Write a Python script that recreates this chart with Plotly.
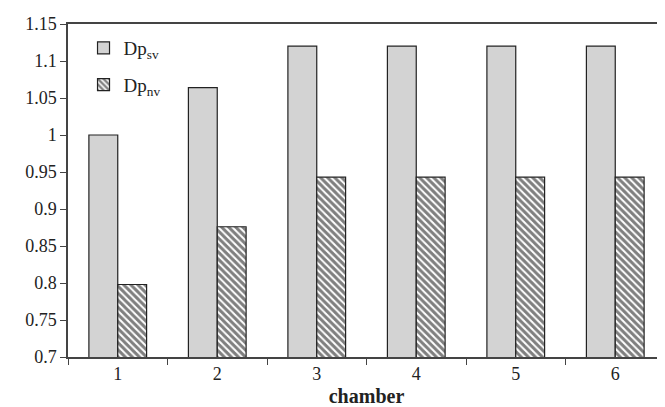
import plotly.graph_objects as go

chambers = ["1", "2", "3", "4", "5", "6"]
dp_sv = [1.0, 1.064, 1.12, 1.12, 1.12, 1.12]
dp_nv = [0.798, 0.876, 0.943, 0.943, 0.943, 0.943]
y_ticks = [0.7, 0.75, 0.8, 0.85, 0.9, 0.95, 1.0, 1.05, 1.1, 1.15]
y_tick_labels = ["0.7", "0.75", "0.8", "0.85", "0.9", "0.95", "1", "1.05", "1.1", "1.15"]

font_family = "Liberation Serif, Times New Roman, serif"

fig = go.Figure()
fig.add_trace(go.Bar(
    x=chambers, y=dp_sv, name="Dp<sub>sv</sub>", legendgroup="a",
    marker=dict(color="#d3d3d3", line=dict(color="#222222", width=1.2)),
))
fig.add_trace(go.Bar(
    x=chambers, y=dp_nv, name="Dp<sub>nv</sub>", legendgroup="b",
    marker=dict(color="white", line=dict(color="#222222", width=1.2),
                pattern=dict(shape="\\", fgcolor="black", bgcolor="white",
                             size=5, solidity=0.6)),
))

fig.update_layout(
    width=665, height=407,
    margin=dict(l=60, r=6, t=14, b=58),
    paper_bgcolor="white", plot_bgcolor="white",
    font=dict(family=font_family, color="#222222", size=18),
    barmode="group", bargap=0.42, bargroupgap=0,
    showlegend=True,
    legend=dict(x=0.026, y=0.985, xanchor="left", yanchor="top",
                bgcolor="rgba(0,0,0,0)", font=dict(size=19, family=font_family),
                tracegroupgap=9, traceorder="grouped", itemwidth=30),
    xaxis=dict(
        type="category", showline=True, linecolor="#444444", linewidth=1.5,
        mirror=True, ticks="outside", tickson="boundaries", ticklen=6,
        tickcolor="#444444", showgrid=False,
        title=dict(text="<b>chamber</b>", font=dict(size=20, family=font_family), standoff=6),
        tickfont=dict(size=18, family=font_family),
    ),
    yaxis=dict(
        range=[0.7, 1.15], tickvals=y_ticks, ticktext=y_tick_labels,
        showline=True, linecolor="#444444", linewidth=1.5, mirror=True,
        ticks="outside", ticklen=6, tickcolor="#444444", showgrid=False,
        zeroline=False, tickfont=dict(size=18, family=font_family),
    ),
)

fig.write_html("out.html")
